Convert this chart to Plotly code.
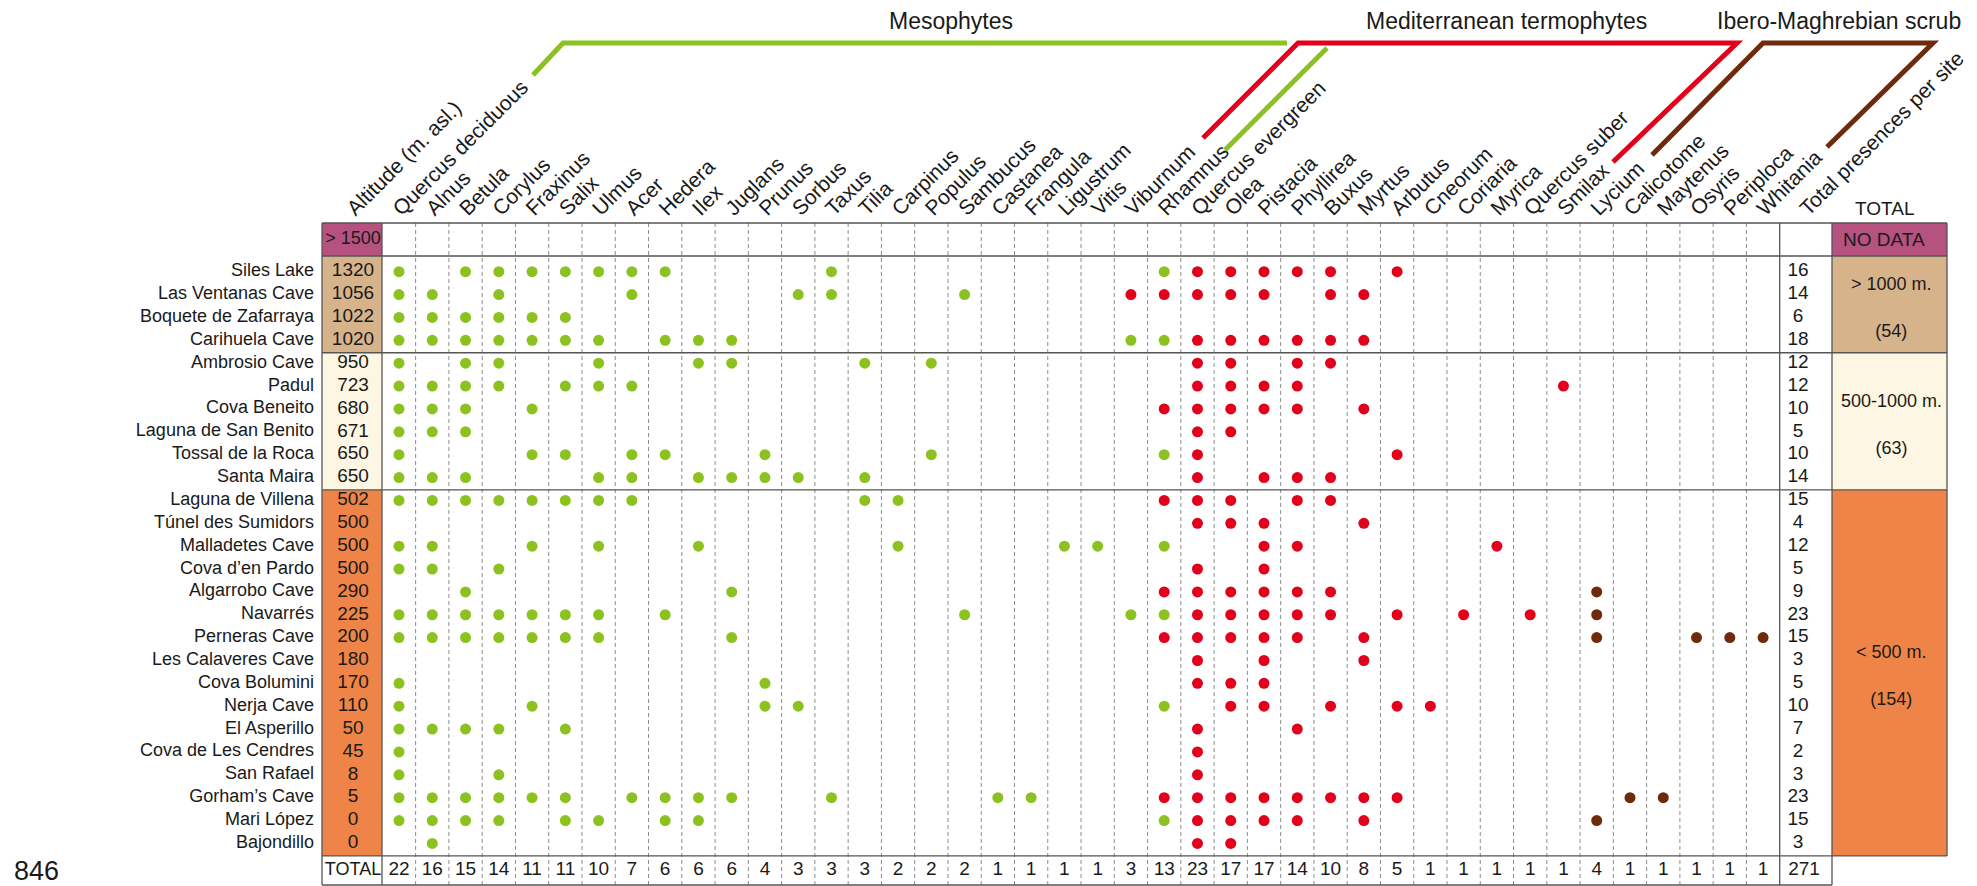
import plotly.graph_objects as go

# ---------------- data ----------------
sites = ["Siles Lake", "Las Ventanas Cave", "Boquete de Zafarraya", "Carihuela Cave",
         "Ambrosio Cave", "Padul", "Cova Beneito", "Laguna de San Benito",
         "Tossal de la Roca", "Santa Maira", "Laguna de Villena", "Túnel des Sumidors",
         "Malladetes Cave", "Cova d\u2019en Pardo", "Algarrobo Cave", "Navarrés",
         "Perneras Cave", "Les Calaveres Cave", "Cova Bolumini", "Nerja Cave",
         "El Asperillo", "Cova de Les Cendres", "San Rafael", "Gorham\u2019s Cave",
         "Mari López", "Bajondillo"]
altitudes = [1320, 1056, 1022, 1020, 950, 723, 680, 671, 650, 650, 502, 500, 500, 500,
             290, 225, 200, 180, 170, 110, 50, 45, 8, 5, 0, 0]
site_totals = [16, 14, 6, 18, 12, 12, 10, 5, 10, 14, 15, 4, 12, 5, 9, 23, 15, 3, 5, 10,
               7, 2, 3, 23, 15, 3]
species = ["Quercus deciduous", "Alnus", "Betula", "Corylus", "Fraxinus", "Salix", "Ulmus",
           "Acer", "Hedera", "Ilex", "Juglans", "Prunus", "Sorbus", "Taxus", "Tilia",
           "Carpinus", "Populus", "Sambucus", "Castanea", "Frangula", "Ligustrum", "Vitis",
           "Viburnum", "Rhamnus", "Quercus evergreen", "Olea", "Pistacia", "Phyllirea",
           "Buxus", "Myrtus", "Arbutus", "Cneorum", "Coriaria", "Myrica", "Quercus suber",
           "Smilax", "Lycium", "Calicotome", "Maytenus", "Osyris", "Periploca", "Whitania"]
species_totals = [22, 16, 15, 14, 11, 11, 10, 7, 6, 6, 6, 4, 3, 3, 3, 2, 2, 2, 1, 1, 1, 1,
                  3, 13, 23, 17, 17, 14, 10, 8, 5, 1, 1, 1, 1, 1, 4, 1, 1, 1, 1, 1]
grand_total = 271

# presences per site (species column indices), by dot colour
green_cols = [
    [0, 2, 3, 4, 5, 6, 7, 8, 13, 23],
    [0, 1, 3, 7, 12, 13, 17],
    [0, 1, 2, 3, 4, 5],
    [0, 1, 2, 3, 4, 5, 6, 8, 9, 10, 22, 23],
    [0, 2, 3, 6, 9, 10, 14, 16],
    [0, 1, 2, 3, 5, 6, 7],
    [0, 1, 2, 4],
    [0, 1, 2],
    [0, 4, 5, 7, 8, 11, 16, 23],
    [0, 1, 2, 6, 7, 9, 10, 11, 12, 14],
    [0, 1, 2, 3, 4, 5, 6, 7, 14, 15],
    [],
    [0, 1, 4, 6, 9, 15, 20, 21, 23],
    [0, 1, 3],
    [2, 10],
    [0, 1, 2, 3, 4, 5, 6, 8, 17, 22, 23],
    [0, 1, 2, 3, 4, 5, 6, 10],
    [],
    [0, 11],
    [0, 4, 11, 12, 23],
    [0, 1, 2, 3, 5],
    [0],
    [0, 3],
    [0, 1, 2, 3, 4, 5, 7, 8, 9, 10, 13, 18, 19],
    [0, 1, 2, 3, 5, 6, 8, 9, 23],
    [1],
]
red_cols = [
    [24, 25, 26, 27, 28, 30],
    [22, 23, 24, 25, 26, 28, 29],
    [],
    [24, 25, 26, 27, 28, 29],
    [24, 25, 27, 28],
    [24, 25, 26, 27, 35],
    [23, 24, 25, 26, 27, 29],
    [24, 25],
    [24, 30],
    [24, 26, 27, 28],
    [23, 24, 25, 27, 28],
    [24, 25, 26, 29],
    [26, 27, 33],
    [24, 26],
    [23, 24, 25, 26, 27, 28],
    [24, 25, 26, 27, 28, 30, 32, 34],
    [23, 24, 25, 26, 27, 29],
    [24, 26, 29],
    [24, 25, 26],
    [25, 26, 28, 30, 31],
    [24, 27],
    [24],
    [24],
    [23, 24, 25, 26, 27, 28, 29, 30],
    [24, 25, 26, 27, 29],
    [24, 25],
]
brown_cols = [[], [], [], [], [], [], [], [], [], [], [], [], [], [],
              [36], [36], [36, 39, 40, 41], [], [], [], [], [], [], [37, 38], [36], []]

group_labels = ["> 1000 m.", "500-1000 m.", "< 500 m."]
group_sizes = [4, 6, 16]
group_titles = ["Mesophytes", "Mediterranean termophytes", "Ibero-Maghrebian scrub"]
top_band_left = "> 1500"
top_band_right = "NO DATA"
figure_number = "846"

# ---------------- styling / geometry (pixels) ----------------
W, H = 1977, 886
X0, DX = 399.0, 33.27      # centre of first species column, column pitch
Y0, DY = 271.7, 22.87      # centre of first site row, row pitch
FONT = "Arial, Liberation Sans, sans-serif"
C_GREEN, C_RED, C_BROWN = "#8CC21F", "#E3001B", "#6F2A0C"
C_PURPLE, C_TAN, C_CREAM, C_ORANGE = "#B6527F", "#D6B38B", "#FDF6E3", "#EE8447"
group_fill = [C_TAN, C_CREAM, C_ORANGE]
LINE = "#555555"
TXT = "#1a1a1a"

def col_of(px):
    return (px - X0) / DX

def row_of(py):
    return (py - Y0) / DY

def row_px(i):
    return Y0 + DY * i

def col_px(k):
    return X0 + DX * k

ALT_L, ALT_R = 322, 382
TOT_L = col_px(len(species) - 0.5)
TOT_R = 1832
BOX_R = 1947
TOP, HDR_B = 223, 256
BODY_B = row_px(len(sites) - 0.5) + 1
TOT_B = 885
k_alt = col_of(353)
k_tot = col_of(1798)
k_grand = col_of(1804)
y_hdr = row_of((TOP + HDR_B) / 2)
y_total = row_of((BODY_B + TOT_B) / 2)
n = len(sites)

def px(x):
    return x / W

def py(y):
    return 1 - y / H

fig = go.Figure()
shapes = []

def rect(x0, y0, x1, y1, fill):
    shapes.append(dict(type="rect", xref="paper", yref="paper", x0=px(x0), x1=px(x1),
                       y0=py(y1), y1=py(y0), fillcolor=fill, line=dict(width=0), layer="below"))

def hline(y, x0, x1, color=LINE, width=1.3, dash="solid"):
    shapes.append(dict(type="line", xref="paper", yref="paper", x0=px(x0), x1=px(x1),
                       y0=py(y), y1=py(y), line=dict(color=color, width=width, dash=dash)))

def vline(x, y0, y1, color=LINE, width=1.3, dash="solid"):
    shapes.append(dict(type="line", xref="paper", yref="paper", x0=px(x), x1=px(x),
                       y0=py(y0), y1=py(y1), line=dict(color=color, width=width, dash=dash)))

# coloured cells
rect(ALT_L, TOP, ALT_R, HDR_B, C_PURPLE)
rect(TOT_R, TOP, BOX_R, HDR_B, C_PURPLE)
start = 0
bounds = []
for g, size in enumerate(group_sizes):
    y0 = HDR_B if start == 0 else row_px(start - 0.5) + 1
    y1 = row_px(start + size - 0.5) + 1
    bounds.append((y0, y1))
    rect(ALT_L, y0, ALT_R, y1, group_fill[g])
    rect(TOT_R, y0, BOX_R, y1, group_fill[g])
    start += size

# dashed column separators
for k in range(len(species) - 1):
    vline(col_px(k + 0.5), TOP, TOT_B, color="#8c8c8c", width=1, dash="4px,3px")
# solid grid
hline(TOP, ALT_L, BOX_R)
hline(HDR_B, ALT_L, BOX_R)
for (y0, y1) in bounds[:-1]:
    hline(y1, ALT_L, BOX_R)
hline(BODY_B, ALT_L, BOX_R)
hline(TOT_B, ALT_L, TOT_R)
for x in (ALT_L, ALT_R, TOT_L, TOT_R):
    vline(x, TOP, TOT_B)
vline(BOX_R, TOP, BODY_B)

# group brackets (decoration)
def path(pts, color):
    d = "M " + " L ".join(f"{px(x)},{py(y)}" for x, y in pts)
    shapes.append(dict(type="path", xref="paper", yref="paper", path=d,
                       line=dict(color=color, width=5)))

path([(533, 75), (563, 43), (1287, 43)], C_GREEN)
path([(1203, 138), (1298, 43), (1737, 43), (1613, 162)], C_RED)
path([(1225, 150), (1327, 48)], C_GREEN)
path([(1652, 155), (1763, 43), (1933, 43), (1827, 147)], C_BROWN)

# presence dots
for cols_list, color in ((green_cols, C_GREEN), (red_cols, C_RED), (brown_cols, C_BROWN)):
    xs, ys = [], []
    for i, cols in enumerate(cols_list):
        for k in cols:
            xs.append(k)
            ys.append(i)
    fig.add_trace(go.Scatter(x=xs, y=ys, mode="markers",
                             marker=dict(size=11, color=color, line=dict(width=0)),
                             hoverinfo="skip", showlegend=False))

def text_trace(xs, ys, texts, pos="middle center", size=19, family=FONT):
    fig.add_trace(go.Scatter(x=xs, y=ys, mode="text", text=texts, textposition=pos,
                             textfont=dict(size=size, family=family, color=TXT),
                             hoverinfo="skip", showlegend=False, cliponaxis=False))

rows = list(range(n))
text_trace([col_of(314)] * n, rows, sites, pos="middle left", size=18)
text_trace([k_alt] * n, rows, [str(a) for a in altitudes], size=19)
text_trace([k_tot] * n, rows, [str(t) for t in site_totals], size=19)
text_trace(list(range(len(species))), [y_total] * len(species),
           [str(t) for t in species_totals], size=19)
text_trace([k_alt], [y_total], ["TOTAL"], size=18)
text_trace([k_grand], [y_total], [str(grand_total)], size=19)
text_trace([k_alt], [y_hdr], [top_band_left], size=18)

def note(x, y, text, size, xanchor="center"):
    return dict(xref="paper", yref="paper", x=px(x), y=py(y), text=text, showarrow=False,
                xanchor=xanchor, yanchor="middle",
                font=dict(size=size, family=FONT, color=TXT))

annotations = [note(1884, (TOP + HDR_B) / 2, top_band_right, 19),
               note(1884, 208, "TOTAL", 19)]
start = 0
for g, size in enumerate(group_sizes):
    s = sum(site_totals[start:start + size])
    y0, y1 = bounds[g]
    annotations.append(note(1891, (y0 + y1) / 2 + 3, f"{group_labels[g]}<br><br>({s})", 18))
    start += size
for title, cx in zip(group_titles, (951, 1506, 1839)):
    annotations.append(note(cx, 21, title, 23))
annotations.append(note(12, 871, figure_number, 27, xanchor="left"))

header_vals = [k_alt - 0.15] + [k - 0.15 for k in range(len(species))] + [col_of(1806) - 0.15]
header_text = ["Altitude (m. asl.)"] + species + ["Total presences per site"]

fig.update_layout(
    width=W, height=H, margin=dict(l=0, r=0, t=0, b=0, pad=0),
    paper_bgcolor="white", plot_bgcolor="white",
    shapes=shapes, annotations=annotations,
    xaxis=dict(range=[col_of(0), col_of(W)], side="top", anchor="free",
               position=py(TOP + 1), tickmode="array", tickvals=header_vals,
               ticktext=header_text, tickangle=-45, ticks="", showline=False,
               showgrid=False, zeroline=False, fixedrange=True,
               tickfont=dict(size=21, family=FONT, color=TXT)),
    yaxis=dict(range=[row_of(H), row_of(0)], visible=False, fixedrange=True),
    showlegend=False,
)

fig.write_html("out.html", config={"displayModeBar": False},
               post_script="document.body.style.margin='0';document.body.style.overflow='hidden';")
